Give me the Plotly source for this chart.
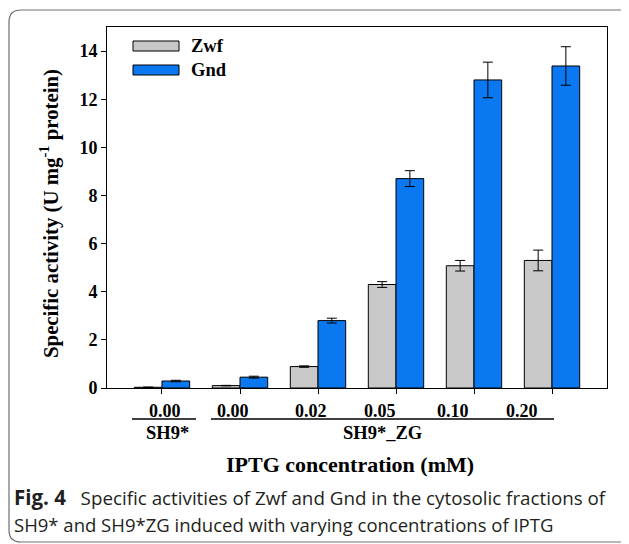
import plotly.graph_objects as go

# ---- data ----
categories = ["SH9* 0.00", "SH9*_ZG 0.00", "SH9*_ZG 0.02", "SH9*_ZG 0.05", "SH9*_ZG 0.10", "SH9*_ZG 0.20"]
tick_labels = ["0.00", "0.00", "0.02", "0.05", "0.10", "0.20"]
zwf_values = [0.03, 0.10, 0.89, 4.30, 5.08, 5.30]
zwf_errors = [0.01, 0.01, 0.03, 0.12, 0.22, 0.43]
gnd_values = [0.29, 0.45, 2.80, 8.70, 12.80, 13.38]
gnd_errors = [0.03, 0.04, 0.10, 0.33, 0.74, 0.80]
groups = ["SH9*", "SH9*_ZG"]
series_names = ["Zwf", "Gnd"]

# ---- layout geometry (page pixels; the page body has an 8px margin) ----
OFF = 8
W, H = 629 - OFF, 544 - OFF
L, R, T, B = 107, 607, 27, 388   # plot area in page pixels


def PX(x):
    return (x - L) / (R - L)


def PY(y):
    return (B - y) / (B - T)


SERIF = "Liberation Serif, Times New Roman, serif"
GRAY = "#c8c8c8"
BLUE = "#0a78f0"


def sfont(size):
    return dict(family=SERIF, size=size, color="black", weight="bold")


idx = list(range(len(categories)))

fig = go.Figure()
fig.add_trace(go.Bar(
    x=idx, y=zwf_values, name=series_names[0],
    marker=dict(color=GRAY, line=dict(color="black", width=1)),
    error_y=dict(type="data", array=zwf_errors, color="black", thickness=1, width=5),
))
fig.add_trace(go.Bar(
    x=idx, y=gnd_values, name=series_names[1],
    marker=dict(color=BLUE, line=dict(color="black", width=1)),
    error_y=dict(type="data", array=gnd_errors, color="black", thickness=1, width=5),
))

shapes = []
annotations = []

# legend (manual, wide swatches)
for i, (name, col) in enumerate(zip(series_names, [GRAY, BLUE])):
    yc = 46 + 24 * i
    shapes.append(dict(type="rect", xref="paper", yref="paper",
                       x0=PX(133), x1=PX(179), y0=PY(yc + 5), y1=PY(yc - 5),
                       fillcolor=col, line=dict(color="black", width=1)))
    annotations.append(dict(text=name, xref="paper", yref="paper",
                            x=PX(189), y=PY(yc), xanchor="left", yanchor="middle",
                            showarrow=False, font=sfont(18.5)))

# x tick labels (slightly offset from ticks as in the original)
label_shift = [3, -7, -7, -16, -21, -30]
for i, lab in enumerate(tick_labels):
    annotations.append(dict(text=lab, xref="x", yref="paper",
                            x=i, xshift=label_shift[i], y=PY(411), xanchor="center", yanchor="middle",
                            showarrow=False, font=sfont(18)))

# group underlines and labels
shapes.append(dict(type="line", xref="paper", yref="paper", x0=PX(132), x1=PX(196),
                   y0=PY(419), y1=PY(419), line=dict(color="black", width=1.5)))
shapes.append(dict(type="line", xref="paper", yref="paper", x0=PX(211), x1=PX(554),
                   y0=PY(419), y1=PY(419), line=dict(color="black", width=1.5)))
annotations.append(dict(text=groups[0], xref="paper", yref="paper",
                        x=PX(167), y=PY(433), xanchor="center", yanchor="middle",
                        showarrow=False, font=sfont(18.5)))
annotations.append(dict(text=groups[1], xref="paper", yref="paper",
                        x=PX(382), y=PY(433), xanchor="center", yanchor="middle",
                        showarrow=False, font=sfont(18.5)))

# axis titles
annotations.append(dict(text="IPTG concentration (mM)", xref="paper", yref="paper",
                        x=PX(350), y=PY(464), xanchor="center", yanchor="middle",
                        showarrow=False, font=sfont(22)))
annotations.append(dict(text="Specific activity (U mg<sup>-1</sup> protein)", xref="paper", yref="paper",
                        x=PX(50), y=PY(214), xanchor="center", yanchor="middle", textangle=-90,
                        showarrow=False, font=sfont(20.8)))

# caption
CAP = "Open Sans, Noto Sans, sans-serif"
annotations.append(dict(text="<span style='font-size:20.5px'><b>Fig. 4</b></span>   Specific activities of Zwf and Gnd in the cytosolic fractions of",
                        xref="paper", yref="paper", x=PX(12), y=PY(497), xanchor="left", yanchor="middle",
                        showarrow=False, font=dict(family=CAP, size=18.8, color="#231f20")))
annotations.append(dict(text="SH9* and SH9*ZG induced with varying concentrations of IPTG",
                        xref="paper", yref="paper", x=PX(12), y=PY(524), xanchor="left", yanchor="middle",
                        showarrow=False, font=dict(family=CAP, size=18.5, color="#231f20")))

# outer rounded frame
r = 12
x0, y0, x1, y1 = 9, 10, 640, 542
pts = (f"M {PX(x1)},{PY(y0)} L {PX(x0 + r)},{PY(y0)} Q {PX(x0)},{PY(y0)} {PX(x0)},{PY(y0 + r)} "
       f"L {PX(x0)},{PY(y1 - r)} Q {PX(x0)},{PY(y1)} {PX(x0 + r)},{PY(y1)} L {PX(x1)},{PY(y1)}")
shapes.append(dict(type="path", xref="paper", yref="paper", path=pts,
                   line=dict(color="#6d6e71", width=1.2)))

fig.update_layout(
    width=W, height=H,
    margin=dict(l=L - OFF, r=W - (R - OFF), t=T - OFF, b=H - (B - OFF)),
    paper_bgcolor="white", plot_bgcolor="white",
    barmode="group", bargap=0.29, bargroupgap=0,
    showlegend=False,
    shapes=shapes, annotations=annotations,
    font=dict(family=SERIF, color="black"),
)
fig.update_xaxes(range=[-0.705, 5.705], tickvals=idx, showticklabels=False,
                 ticks="outside", ticklen=5, tickcolor="black", showgrid=False, zeroline=False,
                 showline=True, linecolor="black", linewidth=1, mirror=True)
fig.update_yaxes(range=[0, 15], tickvals=[0, 2, 4, 6, 8, 10, 12, 14],
                 ticks="outside", ticklen=5, tickcolor="black", showgrid=False, zeroline=False,
                 showline=True, linecolor="black", linewidth=1, mirror=True,
                 tickfont=sfont(18))

fig.write_html("out.html")
